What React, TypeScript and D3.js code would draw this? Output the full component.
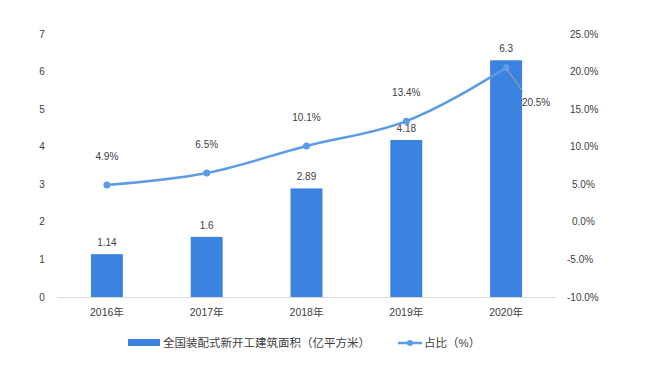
import React, { useEffect, useRef } from 'react';
import * as d3 from 'd3';

const years = ['2016年', '2017年', '2018年', '2019年', '2020年'];
const area = [1.14, 1.6, 2.89, 4.18, 6.3];
const share = [4.9, 6.5, 10.1, 13.4, 20.5];
const leftTicks = [0, 1, 2, 3, 4, 5, 6, 7];
const rightTicks = [-10, -5, 0, 5, 10, 15, 20, 25];

const App = () => {
  const width = 653,
    height = 371,
    margin = { left: 57, top: 34, bottom: 74, right: 97 };

  const svgRef = useRef<SVGSVGElement>(null);

  useEffect(() => {
    const svg = d3.select(svgRef.current);
    svg.selectAll('*').remove();
    const font = '"Liberation Sans", "Noto Sans CJK SC", sans-serif';
    const textColor = '#404040';

    const x = d3.scaleBand<string>()
      .domain(years)
      .range([margin.left, width - margin.right])
      .paddingInner(0.68)
      .paddingOuter(0.34);
    const y = d3.scaleLinear().domain([0, 7]).range([height - margin.bottom, margin.top]);
    const y2 = d3.scaleLinear().domain([-10, 25]).range([height - margin.bottom, margin.top]);

    // baseline
    svg.append('line')
      .attr('x1', margin.left).attr('x2', width - margin.right)
      .attr('y1', y(0) + 0.5).attr('y2', y(0) + 0.5)
      .attr('stroke', '#d9d9d9');

    // left axis labels
    svg.append('g')
      .attr('font-family', font).attr('font-size', 10).attr('fill', textColor)
      .attr('text-anchor', 'middle')
      .selectAll('text').data(leftTicks).join('text')
      .attr('x', 42).attr('y', d => y(d)).attr('dy', '0.35em')
      .text(d => d);

    // right axis labels
    svg.append('g')
      .attr('font-family', font).attr('font-size', 10).attr('fill', textColor)
      .attr('text-anchor', 'start')
      .selectAll('text').data(rightTicks).join('text')
      .attr('x', d => (d < 0 ? 567 : d < 10 ? 572 : 570)).attr('y', d => y2(d)).attr('dy', '0.35em')
      .text(d => d.toFixed(1) + '%');

    // x labels
    svg.append('g')
      .attr('font-family', font).attr('font-size', 10.5).attr('fill', textColor)
      .attr('text-anchor', 'middle')
      .selectAll('text').data(years).join('text')
      .attr('x', d => x(d)! + x.bandwidth() / 2).attr('y', 312).attr('dy', '0.35em')
      .text(d => d);

    // bars
    svg.append('g')
      .attr('fill', '#3c82e0')
      .selectAll('rect').data(area).join('rect')
      .attr('x', (d, i) => x(years[i])!)
      .attr('width', x.bandwidth())
      .attr('y', d => y(d))
      .attr('height', d => y(0) - y(d));

    svg.append('g')
      .attr('font-family', font).attr('font-size', 10).attr('fill', textColor)
      .attr('text-anchor', 'middle')
      .selectAll('text').data(area).join('text')
      .attr('x', (d, i) => x(years[i])! + x.bandwidth() / 2)
      .attr('y', d => y(d) - 8)
      .text(d => d);

    // line
    const cx = (i: number) => x(years[i])! + x.bandwidth() / 2;
    const line = d3.line<number>()
      .x((d, i) => cx(i))
      .y(d => y2(d))
      .curve(d3.curveMonotoneX);
    svg.append('path')
      .datum(share)
      .attr('fill', 'none')
      .attr('stroke', '#5b9be8')
      .attr('stroke-width', 2.5)
      .attr('d', line);
    svg.append('g')
      .attr('fill', '#5b9be8')
      .selectAll('circle').data(share).join('circle')
      .attr('cx', (d, i) => cx(i)).attr('cy', d => y2(d)).attr('r', 3.5);

    // leader line for last label
    const last = share.length - 1;
    svg.append('line')
      .attr('x1', cx(last)).attr('y1', y2(share[last]))
      .attr('x2', cx(last) + 17).attr('y2', y2(share[last]) + 24)
      .attr('stroke', '#a6a6a6').attr('stroke-width', 1);

    svg.append('g')
      .attr('font-family', font).attr('font-size', 10).attr('fill', textColor)
      .attr('text-anchor', 'middle')
      .selectAll('text').data(share).join('text')
      .attr('x', (d, i) => (i === last ? cx(i) + 30 : cx(i)))
      .attr('y', (d, i) => (i === last ? y2(d) + 38 : y2(d) - 25))
      .text(d => d.toFixed(1) + '%');

    // legend
    const lg = svg.append('g').attr('font-family', font).attr('font-size', 11.5).attr('fill', textColor);
    lg.append('rect').attr('x', 128).attr('y', 339).attr('width', 32).attr('height', 7).attr('fill', '#3c82e0');
    lg.append('text').attr('x', 163).attr('y', 343).attr('dy', '0.35em').text('全国装配式新开工建筑面积（亿平方米）');
    lg.append('line').attr('x1', 398).attr('x2', 422).attr('y1', 343).attr('y2', 343)
      .attr('stroke', '#5b9be8').attr('stroke-width', 2.5);
    lg.append('circle').attr('cx', 410).attr('cy', 343).attr('r', 3).attr('fill', '#5b9be8');
    lg.append('text').attr('x', 424).attr('y', 343).attr('dy', '0.35em').text('占比（%）');
  }, []);

  return (
    <svg ref={svgRef} width={width} height={height} style={{ position: 'absolute', left: 0, top: 0, background: '#fff' }}></svg>
  );
};

export default App;
